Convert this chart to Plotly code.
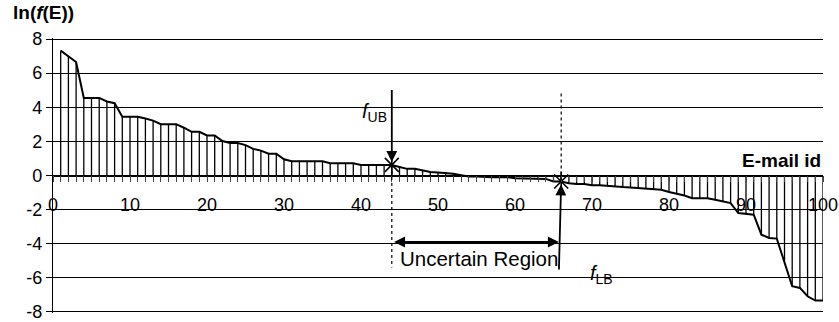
import plotly.graph_objects as go

email_ids = list(range(1, 101))
ln_f = [
    7.32, 6.99, 6.65, 4.55, 4.55, 4.55, 4.34, 4.24, 3.44, 3.44,
    3.44, 3.34, 3.22, 3.01, 3.01, 3.01, 2.80, 2.56, 2.56, 2.35,
    2.35, 2.02, 1.90, 1.90, 1.78, 1.56, 1.46, 1.28, 1.28, 0.95,
    0.84, 0.84, 0.84, 0.84, 0.84, 0.72, 0.72, 0.72, 0.72, 0.62,
    0.62, 0.62, 0.62, 0.62, 0.50, 0.39, 0.39, 0.29, 0.20, 0.18,
    0.16, 0.10, 0.02, -0.06, -0.06, -0.10, -0.10, -0.10, -0.10, -0.16,
    -0.16, -0.16, -0.16, -0.20, -0.35, -0.35, -0.45, -0.50, -0.50, -0.57,
    -0.57, -0.62, -0.64, -0.68, -0.70, -0.74, -0.78, -0.82, -0.84, -0.97,
    -1.07, -1.17, -1.33, -1.33, -1.33, -1.42, -1.50, -1.62, -2.20, -2.24,
    -2.30, -3.47, -3.66, -3.70, -5.03, -6.49, -6.59, -7.08, -7.33, -7.33,
]
ub_id = 44
lb_id = 66
y_ticks = [-8, -6, -4, -2, 0, 2, 4, 6, 8]
x_ticks = [0, 10, 20, 30, 40, 50, 60, 70, 80, 90, 100]

FONT = "Liberation Sans, Arial, sans-serif"

# drop lines from 0 to each value
dx, dy = [], []
for xi, yi in zip(email_ids, ln_f):
    dx += [xi, xi, None]
    dy += [0, yi, None]

fig = go.Figure()
fig.add_trace(go.Scatter(x=dx, y=dy, mode="lines",
                         line=dict(color="black", width=1.3),
                         hoverinfo="skip", showlegend=False))
fig.add_trace(go.Scatter(x=email_ids, y=ln_f, mode="lines",
                         line=dict(color="black", width=2),
                         showlegend=False))

star_x = [ub_id, lb_id]
star_y = [ln_f[ub_id - 1], ln_f[lb_id - 1]]
for sym in ["x-thin-open", "line-ns-open"]:
    fig.add_trace(go.Scatter(x=star_x, y=star_y, mode="markers",
                             marker=dict(symbol=sym, size=14, color="black",
                                         line=dict(color="black", width=1.6)),
                             showlegend=False))

# dotted guide lines
fig.add_shape(type="line", x0=ub_id, x1=ub_id, y0=star_y[0], y1=-5.4,
              line=dict(color="black", width=1.2, dash="dot"))
fig.add_shape(type="line", x0=lb_id, x1=lb_id, y0=4.8, y1=star_y[1],
              line=dict(color="black", width=1.2, dash="dot"))

# arrows
fig.add_annotation(x=ub_id, y=star_y[0], ax=ub_id, ay=5.1, axref="x", ayref="y",
                   xref="x", yref="y", showarrow=True, arrowhead=2, arrowsize=1.2,
                   arrowwidth=1.8, arrowcolor="black", standoff=3, text="")
fig.add_annotation(x=lb_id, y=star_y[1], ax=lb_id - 0.3, ay=-5.6, axref="x", ayref="y",
                   xref="x", yref="y", showarrow=True, arrowhead=2, arrowsize=1.2,
                   arrowwidth=1.8, arrowcolor="black", standoff=3, text="")
fig.add_annotation(x=65.7, y=-3.9, ax=ub_id + 0.1, ay=-3.9, axref="x", ayref="y",
                   xref="x", yref="y", showarrow=True, arrowhead=2, startarrowhead=2,
                   arrowside="end+start", arrowsize=1.1, startarrowsize=1.1,
                   arrowwidth=2, arrowcolor="black", text="")

# texts
fig.add_annotation(x=44.8, y=-4.85, xref="x", yref="y", text="Uncertain Region",
                   showarrow=False, xanchor="left", yanchor="middle",
                   font=dict(family=FONT, size=20.5, color="black"))
fig.add_annotation(x=43.6, y=3.7, xref="x", yref="y",
                   text="<i>f</i><sub>UB</sub>", showarrow=False,
                   xanchor="right", yanchor="middle",
                   font=dict(family=FONT, size=20, color="black"))
fig.add_annotation(x=69.5, y=-5.8, xref="x", yref="y",
                   text="<i>f</i><sub>LB</sub>", showarrow=False,
                   xanchor="left", yanchor="middle",
                   font=dict(family=FONT, size=20, color="black"))
fig.add_annotation(x=100, y=0.9, xref="x", yref="y", text="<b>E-mail id</b>",
                   showarrow=False, xanchor="right", yanchor="middle",
                   font=dict(family=FONT, size=19, color="black"))
fig.add_annotation(x=-0.055, y=1.092, xref="paper", yref="paper",
                   text="<b>ln(<i>f</i>(E))</b>", showarrow=False,
                   xanchor="left", yanchor="middle",
                   font=dict(family=FONT, size=19, color="black"))

fig.update_layout(
    width=839, height=322,
    margin=dict(l=53, r=16, t=38, b=9),
    plot_bgcolor="white", paper_bgcolor="white",
    font=dict(family=FONT, size=18, color="black"),
    showlegend=False,
)
fig.update_xaxes(
    range=[0, 100], anchor="free", position=0.5, automargin=False,
    tickmode="array", tickvals=x_ticks, ticktext=[str(t) for t in x_ticks],
    ticks="outside", ticklen=6, tickcolor="#444", tickwidth=1,
    minor=dict(dtick=1, tick0=0, ticks="outside", ticklen=6, tickcolor="#444", tickwidth=1, showgrid=False),
    showline=True, linecolor="black", linewidth=1.5,
    showgrid=False, zeroline=False,
    tickfont=dict(family=FONT, size=18, color="black"),
    ticklabelstandoff=7, ticklabeloverflow="allow",
)
fig.update_yaxes(
    range=[-8.06, 8.06], tickmode="array", tickvals=y_ticks, automargin=False,
    ticktext=[str(t) for t in y_ticks],
    ticks="outside", ticklen=6, tickcolor="black", tickwidth=1,
    showline=True, linecolor="black", linewidth=1.2,
    showgrid=True, gridcolor="black", gridwidth=1.2,
    zeroline=False, ticklabeloverflow="allow",
    tickfont=dict(family=FONT, size=18, color="black"),
)

fig.write_html("out.html")
